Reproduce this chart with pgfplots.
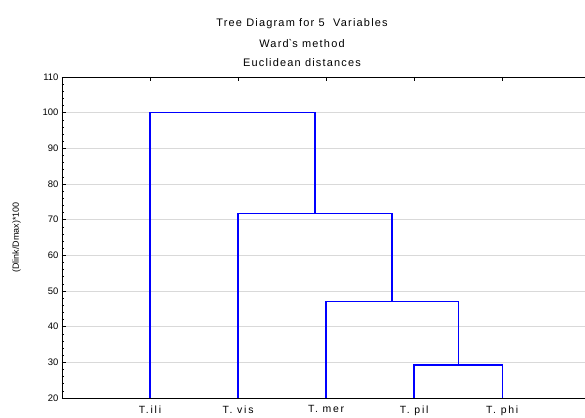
\documentclass[border=0pt]{standalone}
\usepackage{fontspec}
\setmainfont{Liberation Sans}
\newfontfamily\widefont[LetterSpace=11]{Liberation Sans}
\newfontfamily\xlabfont[LetterSpace=17]{Liberation Sans}
\usepackage{pgfplots}
\pgfplotsset{compat=1.18}
\begin{document}
\begin{tikzpicture}
\path[use as bounding box] (-62bp,-20bp) rectangle (523bp,398bp);
\begin{axis}[
    at={(0,0)}, anchor=south west,
    scale only axis,
    width=523bp, height=321bp,
    xmin=0, xmax=5.94,
    ymin=20, ymax=110,
    axis x line=box, axis y line=left,
    axis line style={black, line width=0.9pt, -},
    xtick={1,2,3,4,5},
    xticklabels={T.ili, T. vis, T. mer, T. pil, T. phi},
    ytick={20,30,...,110},
    minor y tick num=4,
    tick align=inside,
    tick style={black, line width=0.5pt},
    major tick length=4bp, minor tick length=2.5bp,
    ymajorgrids,
    grid style={gray!30, line width=0.6pt},
    yticklabel style={font=\fontsize{9.5}{11}\selectfont},
    xticklabel style={font=\xlabfont\fontsize{10.5}{12}\selectfont, yshift=-4bp},
    /pgf/number format/assume math mode=true,
    ylabel={(Dlink/Dmax)*100},
    ylabel style={font=\fontsize{9}{11}\selectfont, yshift=15bp},
    clip=false,
]
\addplot[blue, line width=1.4bp] coordinates {(4,20) (4,29.2) (5,29.2) (5,20)};
\addplot[blue, line width=1.4bp] coordinates {(3,20) (3,47) (4.5,47) (4.5,29.2)};
\addplot[blue, line width=1.4bp] coordinates {(2,20) (2,71.7) (3.75,71.7) (3.75,47)};
\addplot[blue, line width=1.4bp] coordinates {(1,20) (1,100) (2.875,100) (2.875,71.7)};
\end{axis}
\begin{scope}[every node/.style={font=\widefont\fontsize{11}{12}\selectfont}]
\node at (240bp,374bp) {Tree Diagram for 5\ \ Variables};
\node at (240bp,354bp) {Ward\textasciigrave s method};
\node at (240bp,335bp) {Euclidean distances};
\end{scope}
\end{tikzpicture}
\end{document}
